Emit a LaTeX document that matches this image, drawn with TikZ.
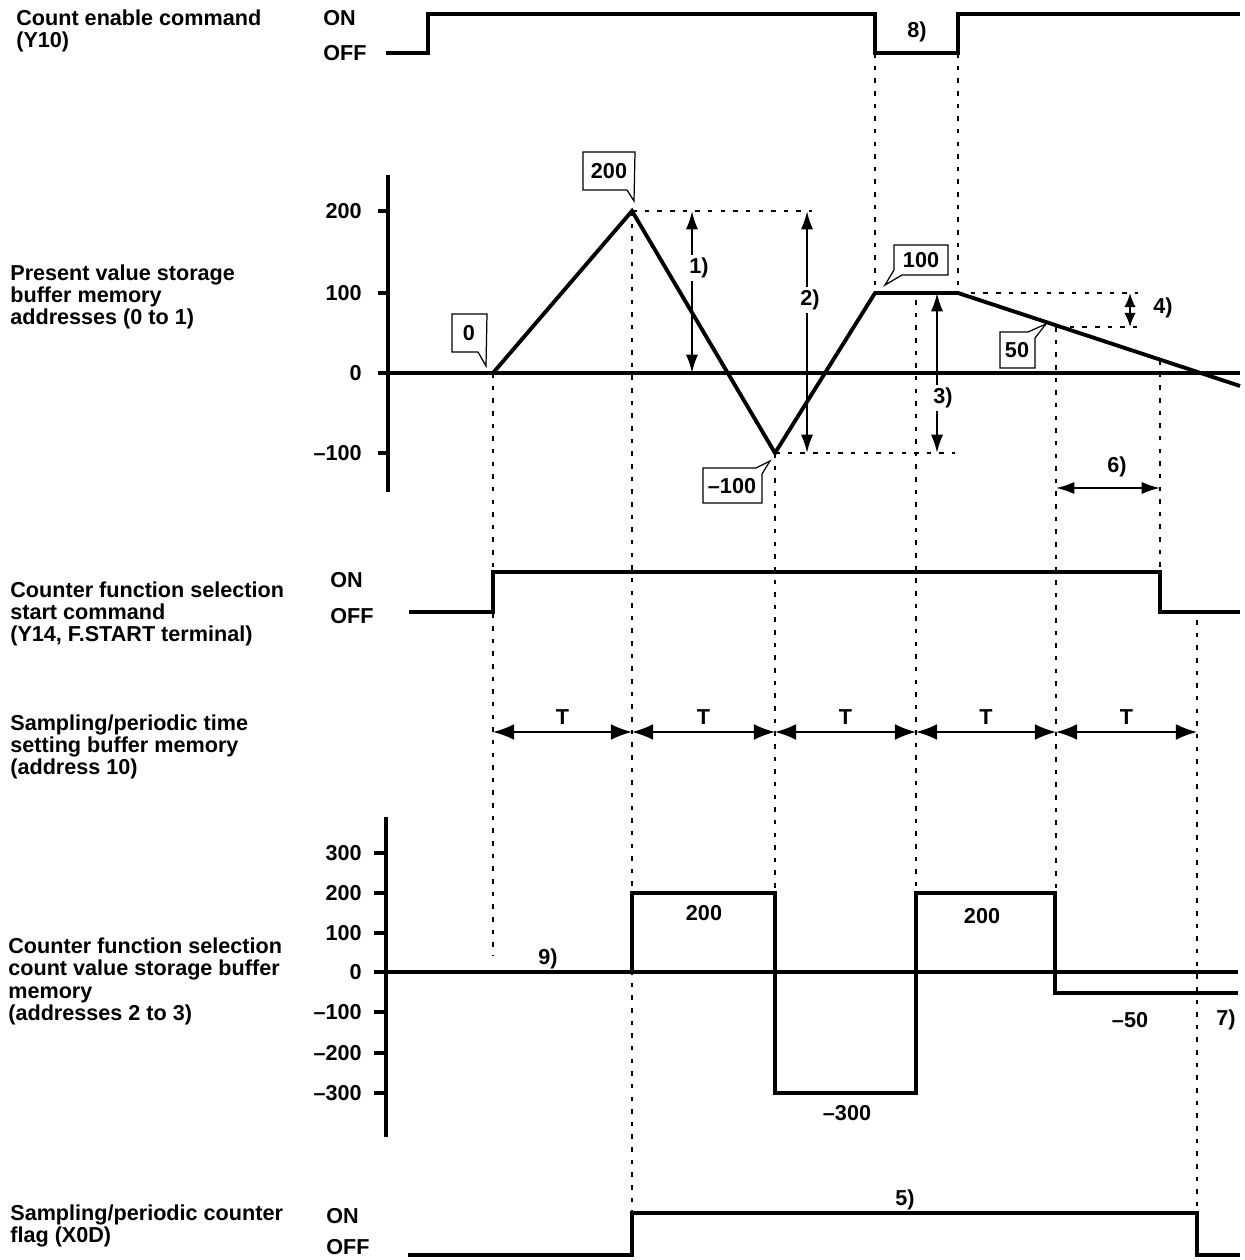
\documentclass[tikz,border=0pt]{standalone}
\usepackage{fontspec}
\setmainfont{Liberation Sans}
\usepackage{tikz}
\usetikzlibrary{arrows.meta, calc}

\begin{document}
\begin{tikzpicture}[
  x=0.02cm, y=-0.02cm,
  >={Latex[length=10.5pt,width=7pt]},
  every node/.style={inner sep=0pt, anchor=center, font=\fontsize{12.3}{12.8}\selectfont\bfseries},
  sig/.style={line width=2.2pt, line join=miter},
  axis/.style={line width=2pt},
  guide/.style={line width=0.7pt, dash pattern=on 2.6pt off 4.6pt},
  dim/.style={<->, line width=1.2pt},
  period/.style={{Latex[length=12pt,width=9pt]}-{Latex[length=12pt,width=9pt]}, line width=1pt},
  lbl/.style={anchor=north west, align=left},
  tick/.style={anchor=east},
  tag/.style={fill=white, inner sep=1.5pt},
  box/.style={line width=0.7pt}
]
  \useasboundingbox (0,0) rectangle (1244,1260);

  % ----- signal names -----
  \node[lbl] (nY10) at (16,9) {Count enable command\\(Y10)};
  \node[lbl] (nPV) at (10,264) {Present value storage\\buffer memory\\addresses (0 to 1)};
  \node[lbl] (nFS) at (10,581) {Counter function selection\\start command\\(Y14, F.START terminal)};
  \node[lbl] (nST) at (10,714) {Sampling/periodic time\\setting buffer memory\\(address 10)};
  \node[lbl] (nCV) at (8,937) {Counter function selection\\count value storage buffer\\memory\\(addresses 2 to 3)};
  \node[lbl] (nFL) at (10,1204) {Sampling/periodic counter\\flag (X0D)};

  % ----- ON / OFF levels -----
  \node[anchor=west] (onY10) at (323,18) {ON};
  \node[anchor=west] (offY10) at (323,53) {OFF};
  \node[anchor=west] (onFS) at (330,580) {ON};
  \node[anchor=west] (offFS) at (330,616) {OFF};
  \node[anchor=west] (onFL) at (326,1216) {ON};
  \node[anchor=west] (offFL) at (326,1247) {OFF};

  % ----- guide lines -----
  \draw[guide] (875,53) -- (875,293);
  \draw[guide] (958,53) -- (958,293);
  \draw[guide] (493,373) -- (493,955);
  \draw[guide] (632,211) -- (632,1213);
  \draw[guide] (775,453) -- (775,893);
  \draw[guide] (916,300) -- (916,893);
  \draw[guide] (1056,327) -- (1056,893);
  \draw[guide] (1160,360) -- (1160,572);
  \draw[guide] (1197,620) -- (1197,1213);
  \draw[guide] (632,211) -- (812,211);
  \draw[guide] (775,453) -- (955,453);
  \draw[guide] (958,293) -- (1138,293);
  \draw[guide] (1057,327) -- (1138,327);

  % ----- count enable command -----
  \draw[sig] (386,53) -- (428,53) -- (428,14) -- (875,14) -- (875,53)
    -- (958,53) -- (958,14) -- (1240,14);
  \node (m8) at (917,32) {8)};

  % ----- present value graph -----
  \draw[axis] (388,175) -- (388,492);
  \draw[axis] (378,211) -- (388,211);
  \draw[axis] (378,293) -- (388,293);
  \draw[axis] (378,453) -- (388,453);
  \draw[axis] (378,373) -- (1240,373);
  \node[tick] (pv200) at (362,211) {200};
  \node[tick] (pv100) at (362,293) {100};
  \node[tick] (pv0) at (362,373) {0};
  \node[tick] (pvm100) at (362,453) {\textendash100};
  \draw[sig] (493,373) -- (632,211) -- (775,453) -- (875,293) -- (958,293) -- (1240,386);

  % callouts
  \node (c200) at (609,171) {200};
  \draw[box] (583,152) -- (635,152) -- (634,201) -- (627,190) -- (583,190) -- cycle;
  \node (c0) at (469,333) {0};
  \draw[box] (452,314) -- (487,314) -- (486,366) -- (478,352) -- (452,352) -- cycle;
  \node (cm100) at (732,486) {\textendash100};
  \draw[box] (703,503) -- (703,468) -- (756,468) -- (770,461) -- (762,474) -- (762,503) -- cycle;
  \node (c100) at (921,260) {100};
  \draw[box] (894,245) -- (948,245) -- (948,275) -- (902,275) -- (885,285) -- (894,270) -- cycle;
  \node (c50) at (1017,350) {50};
  \draw[box] (1000,368) -- (1000,332) -- (1028,332) -- (1046,324) -- (1035,338) -- (1035,368) -- cycle;

  % dimensions
  \coordinate (d1a) at (692,211);
  \coordinate (d1b) at (692,373);
  \coordinate (d2a) at (807,211);
  \coordinate (d2b) at (807,453);
  \coordinate (d3a) at (937,293);
  \coordinate (d3b) at (937,453);
  \coordinate (d4a) at (1130,293);
  \coordinate (d4b) at (1130,327);
  \coordinate (d6a) at (1056,488);
  \coordinate (d6b) at (1160,488);
  \draw[dim] (d1a) -- (d1b);
  \draw[dim] (d2a) -- (d2b);
  \draw[dim] (d3a) -- (d3b);
  \draw[dim, >={Latex[length=8pt,width=6.5pt]}] (d4a) -- (d4b);
  \draw[dim] (d6a) -- (d6b);
  \node[tag] (m1) at (699,268) {1)};
  \node[tag] (m2) at (810,300) {2)};
  \node[tag] (m3) at (943,398) {3)};
  \node (m4) at (1163,308) {4)};
  \node (m6) at (1117,467) {6)};

  % ----- counter function selection start command -----
  \draw[sig] (409,612) -- (493,612) -- (493,572) -- (1160,572) -- (1160,612) -- (1240,612);

  % ----- sampling/periodic time -----
  \coordinate (t0) at (493,732);
  \coordinate (t1) at (632,732);
  \coordinate (t2) at (775,732);
  \coordinate (t3) at (916,732);
  \coordinate (t4) at (1056,732);
  \coordinate (t5) at (1197,732);
  \draw[period] (t0) -- node[above=4pt] (T1) {T} (t1);
  \draw[period] (t1) -- node[above=4pt] (T2) {T} (t2);
  \draw[period] (t2) -- node[above=4pt] (T3) {T} (t3);
  \draw[period] (t3) -- node[above=4pt] (T4) {T} (t4);
  \draw[period] (t4) -- node[above=4pt] (T5) {T} (t5);

  % ----- count value graph -----
  \draw[axis] (386,817) -- (386,1137);
  \draw[axis] (374,853) -- (386,853);
  \draw[axis] (374,893) -- (386,893);
  \draw[axis] (374,933) -- (386,933);
  \draw[axis] (374,1012) -- (386,1012);
  \draw[axis] (374,1053) -- (386,1053);
  \draw[axis] (374,1093) -- (386,1093);
  \draw[line width=1.8pt] (374,972) -- (1238,972);
  \node[tick] (cv300) at (362,853) {300};
  \node[tick] (cv200) at (362,893) {200};
  \node[tick] (cv100) at (362,933) {100};
  \node[tick] (cv0) at (362,972) {0};
  \node[tick] (cvm100) at (362,1012) {\textendash100};
  \node[tick] (cvm200) at (362,1053) {\textendash200};
  \node[tick] (cvm300) at (362,1093) {\textendash300};
  \draw[sig] (386,972) -- (632,972) -- (632,893) -- (775,893) -- (775,1093) -- (916,1093)
    -- (916,893) -- (1055,893) -- (1055,993) -- (1238,993);
  \node (m9) at (548,959) {9)};
  \node (v200a) at (704,913) {200};
  \node (vm300) at (847,1113) {\textendash300};
  \node (v200b) at (982,916) {200};
  \node (vm50) at (1130,1020) {\textendash50};
  \node (m7) at (1226,1020) {7)};

  % ----- sampling/periodic counter flag -----
  \draw[sig] (408,1255) -- (632,1255) -- (632,1213) -- (1197,1213) -- (1197,1255) -- (1240,1255);
  \node (m5) at (905,1200) {5)};
\end{tikzpicture}
\end{document}
